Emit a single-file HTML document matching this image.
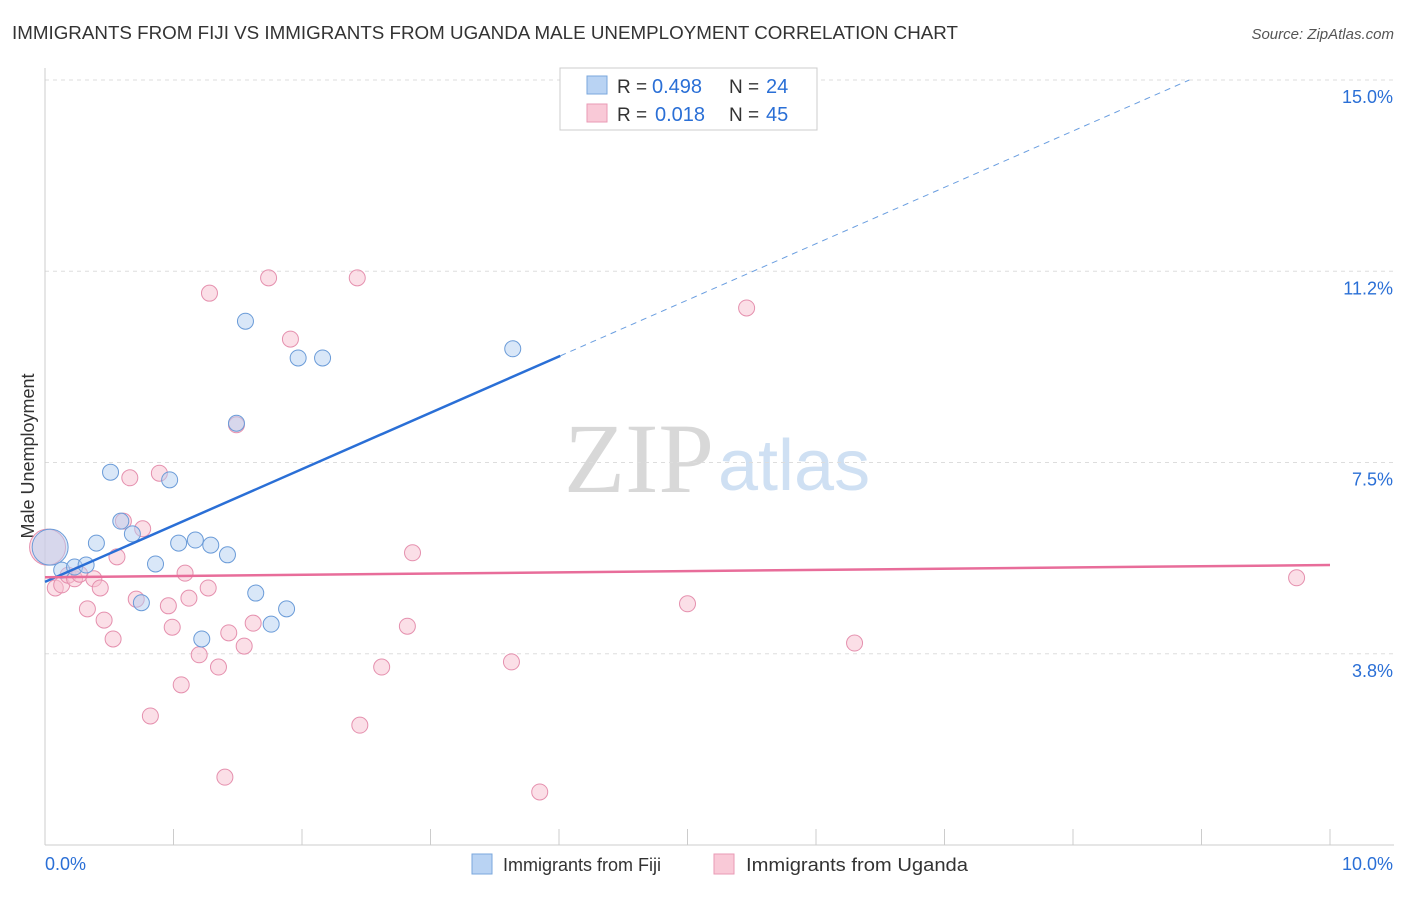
<!DOCTYPE html>
<html><head><meta charset="utf-8"><style>
body{margin:0;background:#fff;font-family:"Liberation Sans",sans-serif;}
svg text{font-family:"Liberation Sans",sans-serif;}
</style></head><body>
<svg id="chart" width="1406" height="892" xmlns="http://www.w3.org/2000/svg">
<text x="12" y="39" font-size="18" fill="#333" textLength="946" lengthAdjust="spacingAndGlyphs">IMMIGRANTS FROM FIJI VS IMMIGRANTS FROM UGANDA MALE UNEMPLOYMENT CORRELATION CHART</text>
<text x="1394" y="39" font-size="15" fill="#555" font-style="italic" text-anchor="end">Source: ZipAtlas.com</text>
<text x="714" y="492" font-size="100" fill="#d8d8d8" text-anchor="end" style="font-family:'Liberation Serif',serif">ZIP</text>
<text x="718" y="490" font-size="72" fill="#cfe0f3">atlas</text>
<text transform="translate(34,456) rotate(-90)" font-size="18" fill="#333" text-anchor="middle">Male Unemployment</text>
<g id="grid"></g><g id="marks"></g>
<g>
<rect x="560" y="68" width="257" height="62" fill="#fff" stroke="#ccc"/>
<rect x="587" y="76" width="20" height="18" fill="#b9d3f3" stroke="#7aa7dc"/>
<rect x="587" y="104" width="20" height="18" fill="#f9c9d7" stroke="#e99ab5"/>
<text x="617" y="93" font-size="19" fill="#333">R =</text>
<text x="652" y="93" font-size="20" fill="#2a6fd6">0.498</text>
<text x="729" y="93" font-size="19" fill="#333">N =</text>
<text x="766" y="93" font-size="20" fill="#2a6fd6">24</text>
<text x="617" y="121" font-size="19" fill="#333">R =</text>
<text x="655" y="121" font-size="20" fill="#2a6fd6">0.018</text>
<text x="729" y="121" font-size="19" fill="#333">N =</text>
<text x="766" y="121" font-size="20" fill="#2a6fd6">45</text>
</g>
<g>
<rect x="472" y="854" width="20" height="20" fill="#b9d3f3" stroke="#7aa7dc"/>
<text x="503" y="871" font-size="18" fill="#333">Immigrants from Fiji</text>
<rect x="714" y="854" width="20" height="20" fill="#f9c9d7" stroke="#e99ab5"/>
<text x="746" y="871" font-size="18" fill="#333" textLength="222" lengthAdjust="spacingAndGlyphs">Immigrants from Uganda</text>
</g>
</svg>
<script>
const yTicks=[3.75,7.5,11.25,15];
const yTickLabels=["3.8%","7.5%","11.2%","15.0%"];
const xTicks=[0,1,2,3,4,5,6,7,8,9,10];
const fijiX=[0.04,0.13,0.23,0.32,0.40,0.51,0.59,0.68,0.75,0.86,0.97,1.04,1.17,1.29,1.22,1.42,1.49,1.56,1.64,1.76,1.88,1.97,2.16,3.64];
const fijiY=[5.84,5.39,5.45,5.49,5.92,7.31,6.35,6.10,4.75,5.51,7.16,5.92,5.98,5.88,4.04,5.69,8.27,10.27,4.94,4.33,4.63,9.55,9.55,9.73];
const ugX=[0.02,0.08,0.13,0.18,0.23,0.27,0.33,0.38,0.43,0.46,0.53,0.56,0.61,0.66,0.71,0.76,0.82,0.89,0.96,0.99,1.06,1.09,1.12,1.20,1.27,1.28,1.35,1.40,1.43,1.49,1.55,1.62,1.74,1.91,2.43,2.45,2.62,2.82,2.86,3.63,3.85,5.00,5.46,6.30,9.74];
const ugY=[5.84,5.04,5.10,5.29,5.22,5.31,4.63,5.22,5.04,4.41,4.04,5.65,6.35,7.20,4.82,6.20,2.53,7.29,4.69,4.27,3.14,5.33,4.84,3.73,5.04,10.82,3.49,1.33,4.16,8.24,3.90,4.35,11.12,9.92,11.12,2.35,3.49,4.29,5.73,3.59,1.04,4.73,10.53,3.96,5.24];
const fijiBig=[0];const ugBig=[0];
const fijiTrend=[5.16,1.105];const ugTrend=[5.25,0.024];
const X=v=>45+v*128.5, Y=v=>845-v*51;
const NS="http://www.w3.org/2000/svg";
const grid=document.getElementById('grid'),marks=document.getElementById('marks');
function mk(tag,attrs,parent){const e=document.createElementNS(NS,tag);for(const k in attrs)e.setAttribute(k,attrs[k]);parent.appendChild(e);return e;}
yTicks.forEach((t,i)=>{
 const l=mk('line',{x1:45,x2:1394,y1:Y(t),y2:Y(t),stroke:'#ddd','stroke-dasharray':'4,4'},grid);
 
 
 const tx=mk('text',{x:1393,y:Y(t)+23,'font-size':18,fill:'#2a6fd6','text-anchor':'end'},grid);tx.textContent=yTickLabels[i];
 
 
});
const axl=mk('line',{x1:45,x2:45,y1:68,y2:845,stroke:'#ccc'},grid);


const axb=mk('line',{x1:45,x2:1394,y1:845,y2:845,stroke:'#ccc'},grid);


xTicks.forEach(t=>{const l=mk('line',{x1:X(t),x2:X(t),y1:829,y2:845,stroke:'#ccc'},grid);
 
 });
const x0=mk('text',{x:45,y:870,'font-size':18,fill:'#2a6fd6'},grid);x0.textContent='0.0%';


const x1=mk('text',{x:1393,y:870,'font-size':18,fill:'#2a6fd6','text-anchor':'end'},grid);x1.textContent='10.0%';


function pts(xs,ys,big,fill,stroke,op,name){xs.forEach((x,i)=>{const c=mk('circle',{cx:X(x),cy:Y(ys[i]),r:big.includes(i)?18:8,fill:fill,'fill-opacity':op,stroke:stroke,'stroke-width':1},marks);
 
 });}
pts(ugX,ugY,ugBig,'#f7bfd0','#e590ae',0.5,'uganda-point');
pts(fijiX,fijiY,fijiBig,'#b4cff2','#6a9bd8',0.5,'fiji-point');
const fEnd=4.01, fMax=(15-fijiTrend[0])/fijiTrend[1];
const fl=mk('line',{x1:X(0),y1:Y(fijiTrend[0]),x2:X(fEnd),y2:Y(fijiTrend[0]+fijiTrend[1]*fEnd),stroke:'#2a6fd6','stroke-width':2.5},marks);


const fd=mk('line',{x1:X(fEnd),y1:Y(fijiTrend[0]+fijiTrend[1]*fEnd),x2:X(fMax),y2:Y(15),stroke:'#6a9ee0','stroke-width':1,'stroke-dasharray':'6,5'},marks);


const ul=mk('line',{x1:X(0),y1:Y(ugTrend[0]),x2:X(10),y2:Y(ugTrend[0]+ugTrend[1]*10),stroke:'#e86d9a','stroke-width':2.5},marks);


</script>
</body></html>
